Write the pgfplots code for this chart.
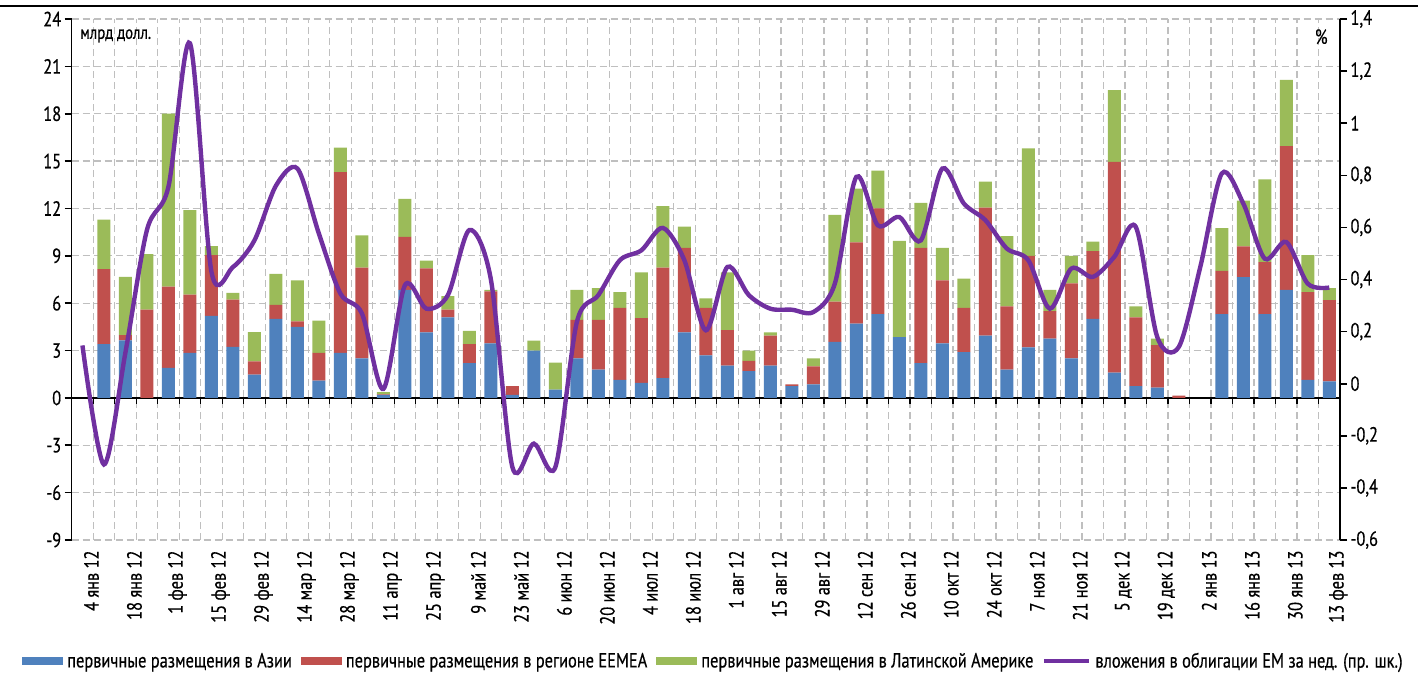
\documentclass[border=0pt]{standalone}
\usepackage{fontspec}
\setmainfont{PT Sans}[FakeStretch=0.8, FakeBold=0.5]
\usepackage{pgfplots}
\usepackage{pgfplotstable}
\pgfplotsset{compat=1.18}

\definecolor{asia}{HTML}{4F81BD}
\definecolor{eemea}{HTML}{C0504D}
\definecolor{latam}{HTML}{9BBB59}
\definecolor{bonds}{HTML}{7030A0}
\definecolor{gridgray}{HTML}{BFBFBF}

% weekly primary placements, bn USD
\pgfplotstableread{
x asia eemea latam
0 0 0 0
1 3.40 4.75 3.15
2 3.65 0.32 3.70
3 0 5.60 3.50
4 1.90 5.15 10.95
5 2.85 3.70 5.35
6 5.20 3.85 0.57
7 3.23 3.00 0.43
8 1.48 0.84 1.84
9 5.00 0.90 1.95
10 4.50 0.35 2.60
11 1.10 1.75 2.05
12 2.85 11.45 1.55
13 2.50 5.75 2.05
14 0.20 0.02 0.15
15 6.85 3.35 2.40
16 4.15 4.05 0.50
17 5.10 0.50 0.85
18 2.20 1.20 0.85
19 3.45 3.30 0.10
20 0.20 0.55 0
21 3.00 0 0.63
22 0.53 0 1.70
23 2.50 2.45 1.90
24 1.80 3.15 2.00
25 1.15 4.55 1.00
26 0.95 4.10 2.90
27 1.25 7.00 3.90
28 4.15 5.35 1.35
29 2.70 3.00 0.60
30 2.05 2.25 3.65
31 1.70 0.65 0.65
32 2.05 1.90 0.20
33 0.75 0.10 0
34 0.85 1.15 0.50
35 3.55 2.55 5.50
36 4.70 5.15 3.40
37 5.30 6.70 2.40
38 3.85 0 6.10
39 2.20 7.30 2.85
40 3.45 4.00 2.05
41 2.90 2.80 1.85
42 3.95 8.10 1.65
43 1.80 4.00 4.45
44 3.20 5.80 6.80
45 3.75 1.75 1.35
46 2.50 4.75 1.75
47 5.00 4.30 0.60
48 1.60 13.35 4.55
49 0.75 4.35 0.70
50 0.65 2.70 0.40
51 0 0.15 0
52 0 0 0
53 5.30 2.75 2.70
54 7.65 1.95 2.90
55 5.30 3.30 5.25
56 6.85 9.10 4.20
57 1.15 5.55 2.35
58 1.05 5.15 0.75
}\ipo

% EM bond fund flows, % (right axis)
\pgfplotstableread{
x flow
0 0.147
1 -0.31
2 0.12
3 0.59
4 0.756
5 1.307
6 0.43
7 0.448
8 0.55
9 0.76
10 0.826
11 0.576
12 0.346
13 0.27
14 -0.02
15 0.378
16 0.288
17 0.34
18 0.59
19 0.40
20 -0.32
21 -0.23
22 -0.32
23 0.237
24 0.34
25 0.474
26 0.512
27 0.598
28 0.474
29 0.205
30 0.448
31 0.34
32 0.288
33 0.284
34 0.275
35 0.384
36 0.794
37 0.608
38 0.64
39 0.55
40 0.826
41 0.692
42 0.628
43 0.519
44 0.474
45 0.288
46 0.442
47 0.41
48 0.487
49 0.602
50 0.179
51 0.141
52 0.448
53 0.807
54 0.692
55 0.48
56 0.544
57 0.384
58 0.369
}\flows

\pgfplotsset{
  base/.style={
    scale only axis, width=1268.3pt, height=521pt,
    at={(71.7pt,-540pt)}, anchor=south west,
    xmin=-0.5, xmax=58.5,
    /pgf/number format/assume math mode=true,
    separate axis lines,
    tick align=outside, major tick length=7pt,
    ticklabel style={font=\fontsize{20.5}{22}\selectfont},
    y axis line style={-, line width=1.6pt},
    ytick style={black, line width=1.6pt},
  },
  barleg/.style={legend image code/.code={\fill[##1] (0pt,-4pt) rectangle (41pt,4pt);}},
  lineleg/.style={legend image code/.code={\draw[##1] (0pt,0pt) -- (45pt,0pt);}},
}

\begin{document}
\begin{tikzpicture}
\path[use as bounding box] (0pt,0pt) rectangle (1425pt,-673pt);
\draw[line width=2.5pt] (0pt,-6pt) -- (1418pt,-6pt);

\begin{axis}[base,
  ybar stacked, bar width=13pt,
  ymin=-9, ymax=24, ytick={-9,-6,...,24},
  axis y line*=left, axis x line*=bottom,
  x axis line style={draw=none},
  xtick={0,2,...,58}, xtick style={draw=none},
  xticklabels={4 янв 12,18 янв 12,1 фев 12,15 фев 12,29 фев 12,14 мар 12,28 мар 12,11 апр 12,25 апр 12,9 май 12,23 май 12,6 июн 12,20 июн 12,4 июл 12,18 июл 12,1 авг 12,15 авг 12,29 авг 12,12 сен 12,26 сен 12,10 окт 12,24 окт 12,7 ноя 12,21 ноя 12,5 дек 12,19 дек 12,2 янв 13,16 янв 13,30 янв 13,13 фев 13},
  xticklabel style={rotate=90, anchor=east, yshift=-9pt},
  minor xtick={-0.5,0.5,...,58.5}, minor tick length=0pt,
  xminorgrids, ymajorgrids,
  grid style={gridgray, dash pattern=on 7pt off 4pt, line width=1.2pt},
  minor grid style={gridgray, dash pattern=on 7pt off 4pt, line width=1.2pt},
  legend columns=4,
  legend style={at={(0.506,-0.232)}, anchor=center, draw=none, fill=none,
    font=\fontsize{20.5}{22}\selectfont,
    /tikz/every even column/.append style={column sep=7pt},
    /tikz/every odd column/.append style={column sep=2pt}},
]
\addplot[barleg, fill=asia, draw=none] table[x=x, y=asia] {\ipo};
\addplot[barleg, fill=eemea, draw=none] table[x=x, y=eemea] {\ipo};
\addplot[barleg, fill=latam, draw=none] table[x=x, y=latam] {\ipo};
\addlegendimage{lineleg, bonds, line width=4pt}
\legend{первичные размещения в Азии, первичные размещения в регионе EEMEA, первичные размещения в Латинской Америке, вложения в облигации EM за нед. (пр. шк.)}
\draw[black, line width=1.8pt] (axis cs:-0.5,0) -- (axis cs:58.5,0);
\pgfplotsinvokeforeach{0,...,57}{\draw[black, line width=1.2pt] (axis cs:#1.5,0) -- ++(0pt,-6pt);}
\node[anchor=north west, font=\fontsize{18.5}{20}\selectfont] at (rel axis cs:0.004,0.987) {млрд долл.};
\node[anchor=north east, font=\fontsize{20.5}{22}\selectfont] at (rel axis cs:0.993,0.987) {\%};
\end{axis}

\begin{axis}[base,
  ymin=-0.6, ymax=1.4,
  ytick={-0.6,-0.4,-0.2,0,0.2,0.4,0.6,0.8,1,1.2,1.4},
  yticklabels={{-0,6},{-0,4},{-0,2},0,{0,2},{0,4},{0,6},{0,8},1,{1,2},{1,4}},
  axis y line*=right, axis x line=none,
]
\addplot[bonds, line width=4.4pt, smooth, no markers] table[x=x, y=flow] {\flows};
\end{axis}
\end{tikzpicture}
\end{document}
